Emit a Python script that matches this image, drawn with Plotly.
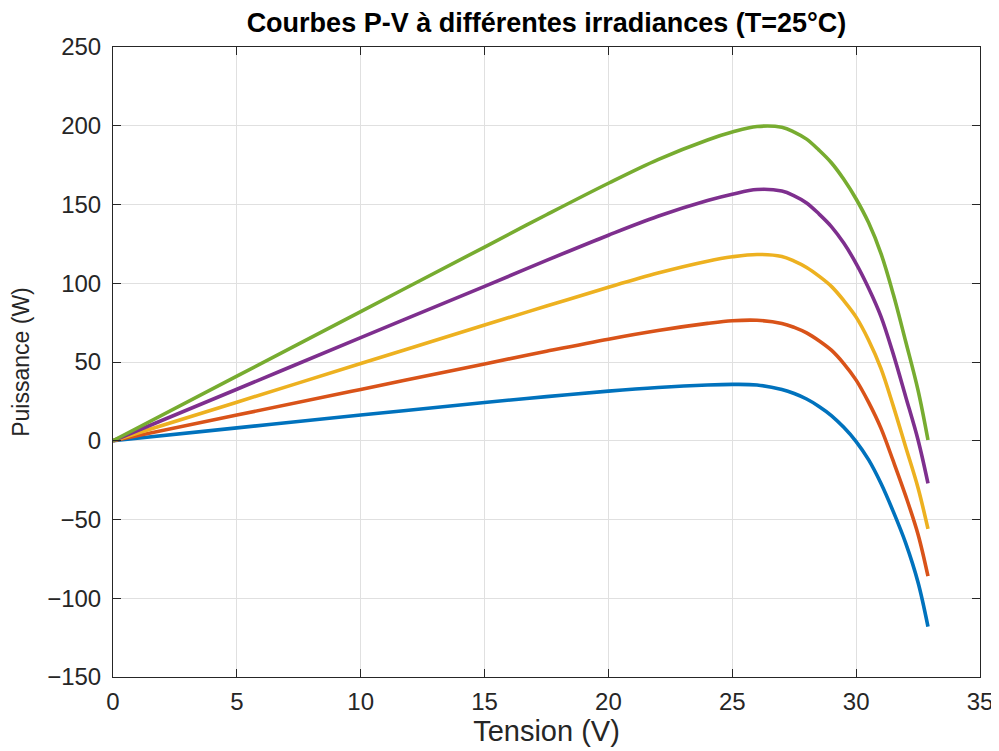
import plotly.graph_objects as go

# tension (V)
tension = [0, 5, 10, 15, 17.5, 20, 22, 24, 25, 26, 27, 27.5, 28, 28.5, 29, 29.5, 30, 30.5, 31, 31.5, 32, 32.5, 32.9]

# puissance (W) pour chaque irradiance
p_200 = [0, 8.2, 16.3, 24.3, 28, 31.5, 33.8, 35.4, 35.8, 35.4, 32.5, 30, 26.5, 21.8, 16, 8.5, -0.5, -12, -27, -45, -65, -90, -118]
p_400 = [0, 16.3, 32.6, 48.8, 56.8, 64.5, 70, 74.5, 76.2, 76.5, 74.5, 72, 68.5, 63.5, 57.5, 49, 38.5, 24.5, 8, -13, -35, -59.5, -86]
p_600 = [0, 24.5, 49, 73.5, 85.5, 97.5, 106.5, 114, 116.8, 118.3, 117, 114, 110, 104.5, 98, 89, 78.5, 64, 46, 22, -4, -30, -56]
p_800 = [0, 32.7, 65.5, 98, 114.5, 130.5, 142.5, 152.5, 156.5, 159.5, 158.5, 155.5, 151, 144, 136, 125.5, 112.5, 97, 79, 55, 28, 0.5, -27]
p_1000 = [0, 41, 82, 123, 143.5, 163.5, 178.5, 191, 196, 199.5, 199, 196, 191.5, 184.5, 176.5, 166, 153.5, 138.5, 119, 93, 63, 32, 0.5]

series = [
    ("200 W/m²", p_200, "#0072BD"),
    ("400 W/m²", p_400, "#D95319"),
    ("600 W/m²", p_600, "#EDB120"),
    ("800 W/m²", p_800, "#7E2F8E"),
    ("1000 W/m²", p_1000, "#77AC30"),
]

fig = go.Figure()
for nom, p, couleur in series:
    fig.add_trace(go.Scatter(x=tension, y=p, mode="lines", name=nom,
                             line=dict(color=couleur, width=3.6, shape="spline", smoothing=1)))

police = "Liberation Sans, Arial, sans-serif"
axe = dict(showline=True, linecolor="#262626", linewidth=1, mirror="ticks",
           ticks="inside", ticklen=8, tickcolor="#262626",
           showgrid=True, gridcolor="#e0e0e0", gridwidth=1, zeroline=False,
           tickfont=dict(family=police, size=24, color="#262626"))

# la page a une marge de 8px : la figure fait donc 991x743
fig.update_layout(
    width=991, height=743,
    paper_bgcolor="white", plot_bgcolor="white",
    margin=dict(l=105, r=19, t=39, b=74, autoexpand=False),
    showlegend=False,
    title=dict(text="<b>Courbes P-V à différentes irradiances (T=25°C)</b>",
               xref="paper", x=0.5, xanchor="center", y=0.981, yanchor="middle",
               font=dict(family=police, size=27, color="black")),
    xaxis=dict(axe, range=[0, 35], tickvals=[0, 5, 10, 15, 20, 25, 30, 35], ticklabelstandoff=3,
               title=dict(text="Tension (V)", font=dict(family=police, size=29, color="#262626"), standoff=6)),
    yaxis=dict(axe, range=[-150, 250], tickvals=[-150, -100, -50, 0, 50, 100, 150, 200, 250], ticklabelstandoff=6,
               title=dict(text="Puissance (W)", font=dict(family=police, size=23, color="#262626"), standoff=14)),
)

fig.write_html("out.html")
